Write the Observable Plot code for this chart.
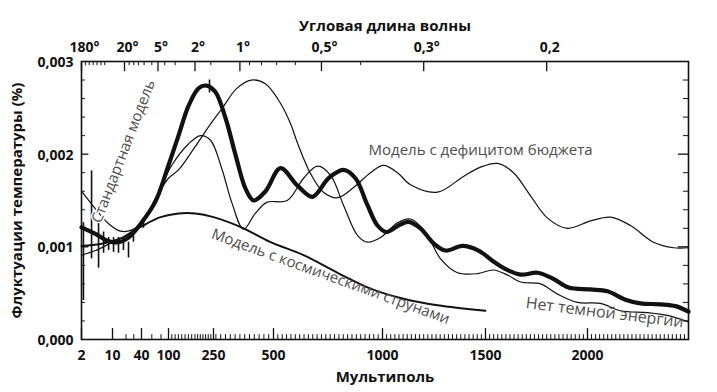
<!DOCTYPE html>
<html><head><meta charset="utf-8">
<script src="https://cdn.jsdelivr.net/npm/d3@7"></script>
<script src="https://cdn.jsdelivr.net/npm/@observablehq/plot@0.6"></script>
<style>body{margin:0;background:#fff;}</style>
</head><body><div id="chart"></div>
<script>
// ---- data (multipole l, temperature fluctuation in %) ----
const standardL = [2, 5.6, 9, 14, 23.2, 40, 67.2, 100, 130.2, 160.4, 193.2, 223.5, 258, 300, 342, 383, 417, 467, 532, 610, 679, 752, 821, 876, 931, 977, 1019, 1078, 1126, 1184, 1247, 1306, 1388, 1466, 1534, 1598, 1672, 1755, 1828, 1907, 2015, 2099, 2188, 2262, 2361, 2436, 2500];
const standardV = [0.00121, 0.00114, 0.00106, 0.00105, 0.00110, 0.00126, 0.00149, 0.00188, 0.00220, 0.00252, 0.00271, 0.00274, 0.00267, 0.00239, 0.00199, 0.00163, 0.00150, 0.00160, 0.00185, 0.00166, 0.00154, 0.00174, 0.00183, 0.00174, 0.00145, 0.00123, 0.00116, 0.00123, 0.00127, 0.00120, 0.00104, 0.00096, 0.00101, 0.00096, 0.00085, 0.00076, 0.00070, 0.00072, 0.00066, 0.00056, 0.00054, 0.00052, 0.00043, 0.00039, 0.00038, 0.00036, 0.00030];

const budgetL = [2, 5.6, 9, 15.3, 27.1, 40, 73.3, 100, 130.2, 178.5, 242.4, 285, 347, 408, 466, 532, 578, 610, 670, 729, 794, 867, 945, 1005, 1073, 1136, 1267, 1393, 1476, 1559, 1637, 1721, 1804, 1902, 2015, 2114, 2213, 2327, 2426, 2500];
const budgetV = [0.00160, 0.00141, 0.00125, 0.00117, 0.00118, 0.00126, 0.00158, 0.00174, 0.00183, 0.00207, 0.00234, 0.00249, 0.00271, 0.00280, 0.00276, 0.00255, 0.00233, 0.00212, 0.00179, 0.00159, 0.00153, 0.00164, 0.00180, 0.00188, 0.00180, 0.00167, 0.00159, 0.00176, 0.00186, 0.00190, 0.00180, 0.00155, 0.00131, 0.00120, 0.00128, 0.00132, 0.00123, 0.00105, 0.00099, 0.00099];

const noDarkL = [2, 5.6, 9.5, 19.3, 40, 67.2, 110, 160.4, 200.8, 238.7, 285, 326, 375, 424, 472, 563, 638, 702, 762, 821, 886, 931, 991, 1073, 1136, 1209, 1282, 1364, 1461, 1539, 1613, 1672, 1770, 1853, 1951, 2064, 2163, 2297, 2396, 2500];
const noDarkV = [0.00091, 0.00096, 0.00104, 0.00112, 0.00126, 0.00152, 0.00188, 0.00211, 0.00220, 0.00215, 0.00184, 0.00148, 0.00119, 0.00136, 0.00148, 0.00150, 0.00174, 0.00187, 0.00177, 0.00145, 0.00112, 0.00105, 0.00110, 0.00126, 0.00130, 0.00116, 0.00087, 0.00072, 0.00071, 0.00075, 0.00069, 0.00062, 0.00060, 0.00049, 0.00040, 0.00039, 0.00031, 0.00029, 0.00026, 0.00019];

const stringsL = [2, 6.9, 15.3, 40, 78.7, 130.2, 181.9, 250, 375, 488, 638, 794, 945, 1102, 1267, 1500];
const stringsV = [0.00101, 0.00103, 0.00109, 0.00122, 0.00132, 0.00136, 0.00136, 0.00132, 0.00120, 0.00105, 0.00091, 0.00072, 0.00055, 0.00044, 0.00037, 0.00031];

const errL  = [2.5, 4.6, 6.4, 7.7, 9.0, 10.7, 14, 17.3, 23.2, 29.6, 43.9, 234.9];
const errLo = [0.00042, 0.00087, 0.00077, 0.00093, 0.00096, 0.00094, 0.00093, 0.00096, 0.00088, 0.00105, 0.00120, 0.00266];
const errHi = [0.00126, 0.00182, 0.00128, 0.00116, 0.00110, 0.00110, 0.00110, 0.00110, 0.00105, 0.00118, 0.00131, 0.00280];

const bottomTicks = [2, 10, 40, 100, 250, 500, 1000, 1500, 2000];
const topDegrees = [180, 20, 5, 2, 1, 0.5, 0.3, 0.2];
const topLabels = ["180°", "20°", "5°", "2°", "1°", "0,5°", "0,3°", "0,2"];
const topMinorDegrees = [120, 90, 72, 60, 51.4, 45, 15, 12, 10, 8, 6, 4, 3, 1.5, 0.9, 0.8, 0.7, 0.6, 0.4];
const yTicks = [0, 0.001, 0.002, 0.003];

// ---- tables ----
const rows = (L, V) => L.map((l, i) => ({l, v: V[i]}));
const standard = rows(standardL, standardV);
const budget = rows(budgetL, budgetV);
const noDark = rows(noDarkL, noDarkV);
const strings = rows(stringsL, stringsV);
const errs = errL.map((l, i) => ({l, lo: errLo[i], hi: errHi[i]}));

const topMajor = topDegrees.map((t, i) => ({l: 360 / t, label: topLabels[i]}));
const topMinorL = topMinorDegrees.map(t => 360 / t);
const bottomMinor = [20, 30, 60, 80, ...d3.range(110, 250, 10), ...d3.range(260, 2500, 20)]
  .filter(d => !bottomTicks.includes(d));
const yMinor = d3.range(1, 15).map(i => i * 0.0002).filter(d => Math.abs(d * 1000 - Math.round(d * 1000)) > 1e-6);
const yMajor = [0.001, 0.002];

const FONT = "'Open Sans', sans-serif";
const annFont = {fontFamily: FONT, fontSize: 15, fontWeight: 400, fill: "#4d4d4d"};
const tickFont = {fontFamily: FONT, fontSize: 14, fontWeight: 700, fill: "#111"};

const chart = Plot.plot({
  width: 717, height: 392,
  marginLeft: 81, marginRight: 29, marginTop: 61, marginBottom: 53,
  style: {fontFamily: FONT, fontSize: "14px", background: "#fff", color: "#111"},
  x: {type: "linear", axis: null,
      domain: [2, 10, 18, 40, 72, 100, 180, 250, 500, 1000, 1500, 2000, 2500],
      range: [81, 112, 124, 141, 157.5, 168, 194.5, 213, 273, 382, 485, 587, 688]},
  y: {domain: [0, 0.003], axis: null},
  marks: [
    // inward ticks
    Plot.ruleX(bottomTicks, {x: d => d, y1: 0, y2: 0.000118, stroke: "#111", strokeWidth: 1.3}),
    Plot.ruleX(bottomMinor, {x: d => d, y1: 0, y2: 0.000052, stroke: "#111", strokeWidth: 1}),
    Plot.ruleX(topMajor, {x: "l", y1: 0.003, y2: 0.003 - 0.000110, stroke: "#111", strokeWidth: 1.3}),
    Plot.ruleX(topMinorL, {x: d => d, y1: 0.003, y2: 0.003 - 0.000045, stroke: "#111", strokeWidth: 1}),
    Plot.ruleY(yMajor, {y: d => d, x1: 2, x2: 3.9, stroke: "#111", strokeWidth: 1.3}),
    Plot.ruleY(yMinor, {y: d => d, x1: 2, x2: 3.0, stroke: "#111", strokeWidth: 1}),
    Plot.ruleY(yMajor, {y: d => d, x1: 2500, x2: 2450, stroke: "#111", strokeWidth: 1.3}),
    Plot.ruleY(yMinor, {y: d => d, x1: 2500, x2: 2475, stroke: "#111", strokeWidth: 1}),
    // curves
    Plot.line(strings, {x: "l", y: "v", curve: "catmull-rom", stroke: "#111", strokeWidth: 1.9}),
    Plot.line(budget, {x: "l", y: "v", curve: "catmull-rom", stroke: "#111", strokeWidth: 1.2}),
    Plot.line(noDark, {x: "l", y: "v", curve: "catmull-rom", stroke: "#111", strokeWidth: 1.2}),
    Plot.line(standard, {x: "l", y: "v", curve: "catmull-rom", stroke: "#111", strokeWidth: 4.2}),
    Plot.ruleX(errs, {x: "l", y1: "lo", y2: "hi", stroke: "#111", strokeWidth: 1.6}),
    // annotations
    Plot.text(["Модель с дефицитом бюджета"], {x: 1476, y: 0.00204, text: d => d, ...annFont}),
    Plot.text(["Нет темной энергии"], {x: 2085, y: 0.00029, text: d => d, rotate: 7, ...annFont, fontSize: 16}),
    Plot.text(["Модель с космическими струнами"], {x: 762, y: 0.00068, text: d => d, rotate: 20, ...annFont}),
    Plot.text(["Стандартная модель"], {x: 17.3, y: 0.00203, text: d => d, rotate: -69, stroke: "#fff", strokeWidth: 3, ...annFont}),
    // tick labels
    Plot.text(bottomTicks, {x: d => d, y: 0, dy: 16, text: d => String(d), ...tickFont}),
    Plot.text(topMajor, {x: "l", y: 0.003, dy: -14, dx: 3, text: "label", ...tickFont}),
    Plot.text(yTicks, {x: 2, y: d => d, dx: -8, dy: 1, textAnchor: "end", text: d => d.toFixed(3).replace(".", ","), ...tickFont}),
    // axis titles
    Plot.text(["Мультиполь"], {frameAnchor: "bottom", dy: 42, text: d => d, ...tickFont, fontSize: 15}),
    Plot.text(["Угловая длина волны"], {frameAnchor: "top", dy: -41, text: d => d, ...tickFont, fontSize: 15}),
    Plot.text(["Флуктуации температуры (%)"], {frameAnchor: "left", dx: -64, rotate: -90, textAnchor: "middle", text: d => d, ...tickFont, fontSize: 15}),
    Plot.frame({stroke: "#111", strokeWidth: 1.6})
  ]
});
document.getElementById("chart").appendChild(chart);
</script>
</body></html>
